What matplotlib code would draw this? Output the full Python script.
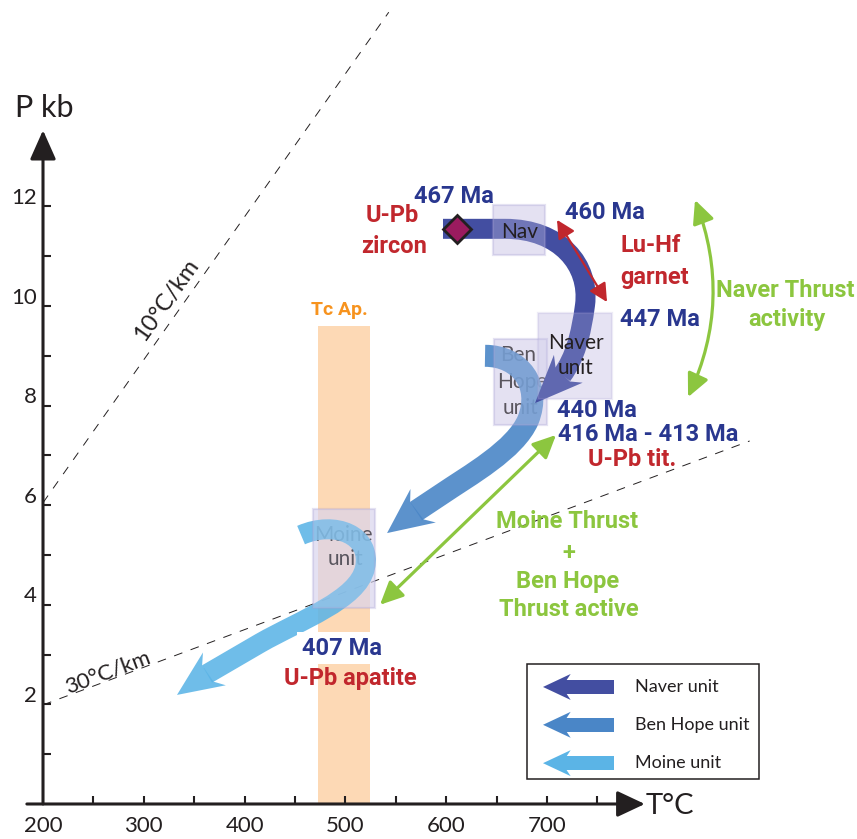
import numpy as np
import matplotlib.pyplot as plt
from matplotlib.path import Path
from matplotlib.patches import PathPatch, Polygon, Rectangle

plt.rcParams['font.family'] = ['Lato', 'DejaVu Sans']

# ---- data (T in degC, P in kbar) ----
x_ticks = [250, 300, 350, 400, 450, 500, 550, 600, 650, 700, 750]
x_labels = [200, 300, 400, 500, 600, 700]
y_ticks = [1, 2, 3, 4, 5, 6, 7, 8, 9, 10, 11, 12]
y_labels = [2, 4, 6, 8, 10, 12]

# geotherms
geo10_T = [200, 543]
geo10_P = [6.05, 15.9]
geo30_T = [200, 901]
geo30_P = [1.99, 7.29]

# apatite closure temperature band
tc_ap_T = [473, 524]
tc_ap_P_top = 9.6

# P-T boxes: (T min, T max, P min, P max)
box_nav = (646, 698, 11.02, 12.03)
box_naver = (691, 764.5, 8.13, 9.86)
box_benhope = (647.4, 700, 7.61, 9.34)
box_moine = (468, 529.4, 3.94, 5.92)

# P-T paths (bezier control points) and arrow tips
M, L, C = Path.MOVETO, Path.LINETO, Path.CURVE4
naver_T = [596.8, 658.3, 712.9, 742.7, 737.7, 733.7, 727.8, 714.9]
naver_P = [11.55, 11.55, 11.55, 10.82, 10.02, 9.42, 8.96, 8.61]
naver_codes = [M, L, C, C, C, C, C, C]
naver_tip = (688.1, 8.05)

benhope_T = [638.5, 673.2, 695.1, 681.2, 668.3, 623.6, 593.8, 570.0]
benhope_P = [9.0, 9.0, 8.41, 7.71, 7.11, 6.61, 6.20, 5.88]
benhope_codes = [M, C, C, C, C, C, C, L]
benhope_tip = (541.3, 5.44)

moine_T = [456.0, 489.7, 526.4, 519.4, 512.5, 455.0, 415.3, 362.7]
moine_P = [5.40, 5.70, 5.40, 4.74, 4.10, 3.69, 3.23, 2.61]
moine_codes = [M, C, C, C, C, C, C, L]
moine_tip = (332.9, 2.19)

zircon_T, zircon_P = 610.7, 11.55

# double arrows
luhf_ends = [(709.9, 11.73), (759.5, 10.08)]
naver_thrust_ends = [(839.9, 8.17), (846.8, 12.13)]
moine_thrust_ends = [(708.9, 7.41), (534.3, 4.0)]

legend_units = ['Naver unit', 'Ben Hope unit', 'Moine unit']
legend_P = [2.35, 1.59, 0.82]

# ---- colours ----
navy = '#29378F'
red = '#C1272D'
green = '#8CC63F'
orange = '#F7931E'
c_naver = '#434EA1'
c_benhope = '#4A86C7'
c_moine = '#5BB4E6'
dark = '#231F20'

fig = plt.figure(figsize=(8.57, 8.39), dpi=100)
ax = fig.add_axes([0, 0, 1, 1])
ax.set_xlim(157.34, 1007.5)
ax.set_ylim(-0.703, 16.145)
ax.axis('off')

px = 100 / 72.0  # pixels per point


def thick_arrow(verts, codes, tip, color, body, head_w, notch=6, z=2, alpha=1.0):
    path = Path(verts, codes)
    ax.add_patch(PathPatch(path, fill=False, ec=color, lw=body / px, capstyle='butt',
                           joinstyle='round', zorder=z, alpha=alpha))
    base = ax.transData.transform(verts[-1])
    tp = ax.transData.transform(tip)
    u = (tp - base) / np.hypot(*(tp - base))
    n = np.array([-u[1], u[0]])
    pts = np.array([tp,
                    base + n * head_w / 2 - u * notch,
                    base + n * body / 2 - u * 1,
                    base - n * body / 2 - u * 1,
                    base - n * head_w / 2 - u * notch])
    ax.add_patch(Polygon(ax.transData.inverted().transform(pts), closed=True,
                         fc=color, ec='none', zorder=z, alpha=alpha))


# band
ax.fill_between(tc_ap_T, 0, tc_ap_P_top, color='#FDD9B5', lw=0, zorder=0.5)
ax.text(493.7, 9.92, 'Tc Ap.', color=orange, fontsize=14, fontweight='bold',
        family=['Roboto', 'DejaVu Sans'], ha='center', va='center')

# geotherms
ax.plot(geo10_T, geo10_P, color=dark, lw=0.7, ls=(0, (9, 9)), zorder=1)
ax.plot(geo30_T, geo30_P, color=dark, lw=0.7, ls=(0, (9, 9)), zorder=1)
ax.text(322, 10.12, '10°C/km', fontsize=17, rotation=54.6, ha='center', va='center',
        color=dark)
ax.text(264.5, 2.65, '30°C/km', fontsize=16, rotation=20.5, ha='center', va='center',
        color=dark)

# axes with arrows
ax.annotate('', xy=(797, 0), xytext=(184, 0),
            arrowprops=dict(arrowstyle='-|>,head_length=0.85,head_width=0.4',
                            lw=2.2, color=dark, mutation_scale=20, shrinkA=0, shrinkB=0))
ax.annotate('', xy=(200, 13.53), xytext=(200, 0),
            arrowprops=dict(arrowstyle='-|>,head_length=0.9,head_width=0.4',
                            lw=2.2, color=dark, mutation_scale=20, shrinkA=0, shrinkB=0))
ax.vlines(x_ticks, 0, 0.17, color=dark, lw=1.5)
ax.hlines(y_ticks, 200, 208, color=dark, lw=1.5)
for t in x_labels:
    ax.text(t, -0.44, str(t), fontsize=16, ha='center', va='center', color=dark)
for p in y_labels:
    ax.text(194, p + 0.17, str(p), fontsize=16, ha='right', va='center', color=dark)
ax.text(201, 13.98, 'P kb', fontsize=22, ha='center', va='center', color=dark)
ax.text(798, -0.04, 'T°C', fontsize=21, ha='left', va='center', color=dark)


# boxes
def box(b, alpha, z, edge=True):
    ax.add_patch(Rectangle((b[0], b[2]), b[1] - b[0], b[3] - b[2], fc='#D9D5EE',
                           ec='#A79FD4' if edge else 'none', lw=1.6, alpha=alpha, zorder=z))


for b in [box_nav, box_naver, box_benhope, box_moine]:
    box(b, 0.55, 1.2, edge=False)

# labels under the arrows
for s, t, p in [('Ben', 671.2, 9.02), ('Hope', 675.2, 8.47), ('unit', 673.2, 7.95),
                ('Moine', 497.6, 5.40), ('unit', 499.6, 4.92)]:
    ax.text(t, p, s, fontsize=15, ha='center', va='center', color=dark, zorder=1.5)

# P-T paths
thick_arrow(list(zip(moine_T, moine_P)), moine_codes, moine_tip, c_moine, 20, 40, notch=9,
            z=2, alpha=0.88)
thick_arrow(list(zip(benhope_T, benhope_P)), benhope_codes, benhope_tip, c_benhope, 22, 42,
            notch=9, z=2.1, alpha=0.9)
for b in [box_benhope, box_moine]:
    box(b, 0.3, 2.15)
thick_arrow(list(zip(naver_T, naver_P)), naver_codes, naver_tip, c_naver, 20, 40, notch=9,
            z=2.2)
box(box_naver, 0.2, 2.3)
box(box_nav, 0.3, 2.5)

for s, t, p in [('Nav', 673.2, 11.49), ('Naver', 728.8, 9.26), ('unit', 727.8, 8.76)]:
    ax.text(t, p, s, fontsize=15, ha='center', va='center', color=dark, zorder=3)

ax.plot(zircon_T, zircon_P, marker='D', ms=14, mfc='#9B1B5F', mec=dark, mew=2, zorder=4)

# double arrows
ax.annotate('', xy=luhf_ends[0], xytext=luhf_ends[1],
            arrowprops=dict(arrowstyle='<|-|>,head_length=0.55,head_width=0.28', lw=1.6,
                            color=red, mutation_scale=20, shrinkA=0, shrinkB=0))
ax.annotate('', xy=naver_thrust_ends[1], xytext=naver_thrust_ends[0],
            arrowprops=dict(arrowstyle='<|-|>,head_length=0.7,head_width=0.33', lw=2.3,
                            color=green, mutation_scale=20, shrinkA=0, shrinkB=0,
                            connectionstyle='arc3,rad=0.21'))
ax.annotate('', xy=moine_thrust_ends[1], xytext=moine_thrust_ends[0],
            arrowprops=dict(arrowstyle='<|-|>,head_length=0.7,head_width=0.33', lw=2.3,
                            color=green, mutation_scale=20, shrinkA=0, shrinkB=0))

# annotations
bold = dict(fontsize=17, fontweight='bold', family=['Roboto', 'DejaVu Sans'],
            va='center', zorder=5)
ax.text(607.7, 12.19, '467 Ma', color=navy, ha='center', **bold)
ax.text(546.2, 11.81, 'U-Pb', color=red, ha='center', **bold)
ax.text(548.2, 11.20, 'zircon', color=red, ha='center', **bold)
ax.text(757.5, 11.87, '460 Ma', color=navy, ha='center', **bold)
ax.text(772.5, 11.22, 'Lu-Hf', color=red, ha='left', **bold)
ax.text(772.5, 10.58, 'garnet', color=red, ha='left', **bold)
ax.text(812.1, 9.72, '447 Ma', color=navy, ha='center', **bold)
ax.text(936.1, 10.32, 'Naver Thrust', color=green, ha='center', **bold)
ax.text(938.1, 9.72, 'activity', color=green, ha='center', **bold)
ax.text(749.6, 7.91, '440 Ma', color=navy, ha='center', **bold)
ax.text(800.7, 7.41, '416 Ma - 413 Ma', color=navy, ha='center', **bold)
ax.text(784.3, 6.91, 'U-Pb tit.', color=red, ha='center', **bold)
ax.text(719.8, 5.68, 'Moine Thrust', color=green, ha='center', **bold)
ax.text(721.8, 5.04, '+', color=green, ha='center', **bold)
ax.text(720.8, 4.46, 'Ben Hope', color=green, ha='center', **bold)
ax.text(721.8, 3.90, 'Thrust active', color=green, ha='center', **bold)
ax.text(496.6, 3.13, '407 Ma', color=navy, ha='center',
        bbox=dict(boxstyle='square,pad=0.2', fc='white', ec='none'), **bold)
ax.text(504.6, 2.53, 'U-Pb apatite', color=red, ha='center', **bold)

# legend
ax.add_patch(Rectangle((680.2, 0.50), 230.1, 2.31, fc='white', ec=dark, lw=1.1, zorder=6))
for name, p, c in zip(legend_units, legend_P, [c_naver, c_benhope, c_moine]):
    thick_arrow([(766.5, p), (718.5, p)], [M, L], (696, p), c, 14, 26, notch=5, z=7)
    ax.text(787.3, p, name, fontsize=13, ha='left', va='center', color=dark, zorder=7)

fig.savefig('out.png', dpi=100)
